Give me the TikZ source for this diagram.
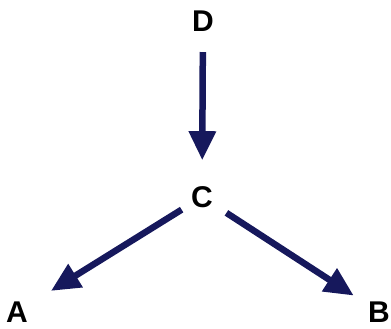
\documentclass[tikz,border=0pt]{standalone}
\usepackage{fontspec}
\setmainfont{Liberation Sans}
\usepackage{tikz}
\usetikzlibrary{arrows.meta,positioning}
\definecolor{navy}{RGB}{22,24,92}

\begin{document}
\begin{tikzpicture}[
    x=1pt, y=1pt,
    lbl/.style={inner sep=0pt, font=\fontsize{30}{31}\selectfont\bfseries},
    arrow/.style={-{Triangle[length=29pt,width=26pt]}, line width=6.5pt, navy}
]
    \useasboundingbox (0,0) rectangle (391,329);

    % Labels
    \node[lbl] (D) at (203,307.5) {D};
    \node[lbl] (C) at (202,132) {C};
    \node[lbl] (A) at (17,17) {A};
    \node[lbl] (B) at (379,17) {B};

    % Arrows
    \draw[arrow, shorten <=20pt, shorten >=26pt] (D) -- (C);
    \draw[arrow, shorten <=11pt, shorten >=27pt] (C) -- (A);
    \draw[arrow, shorten <=16pt, shorten >=17pt] (C) -- (B);

\end{tikzpicture}
\end{document}
